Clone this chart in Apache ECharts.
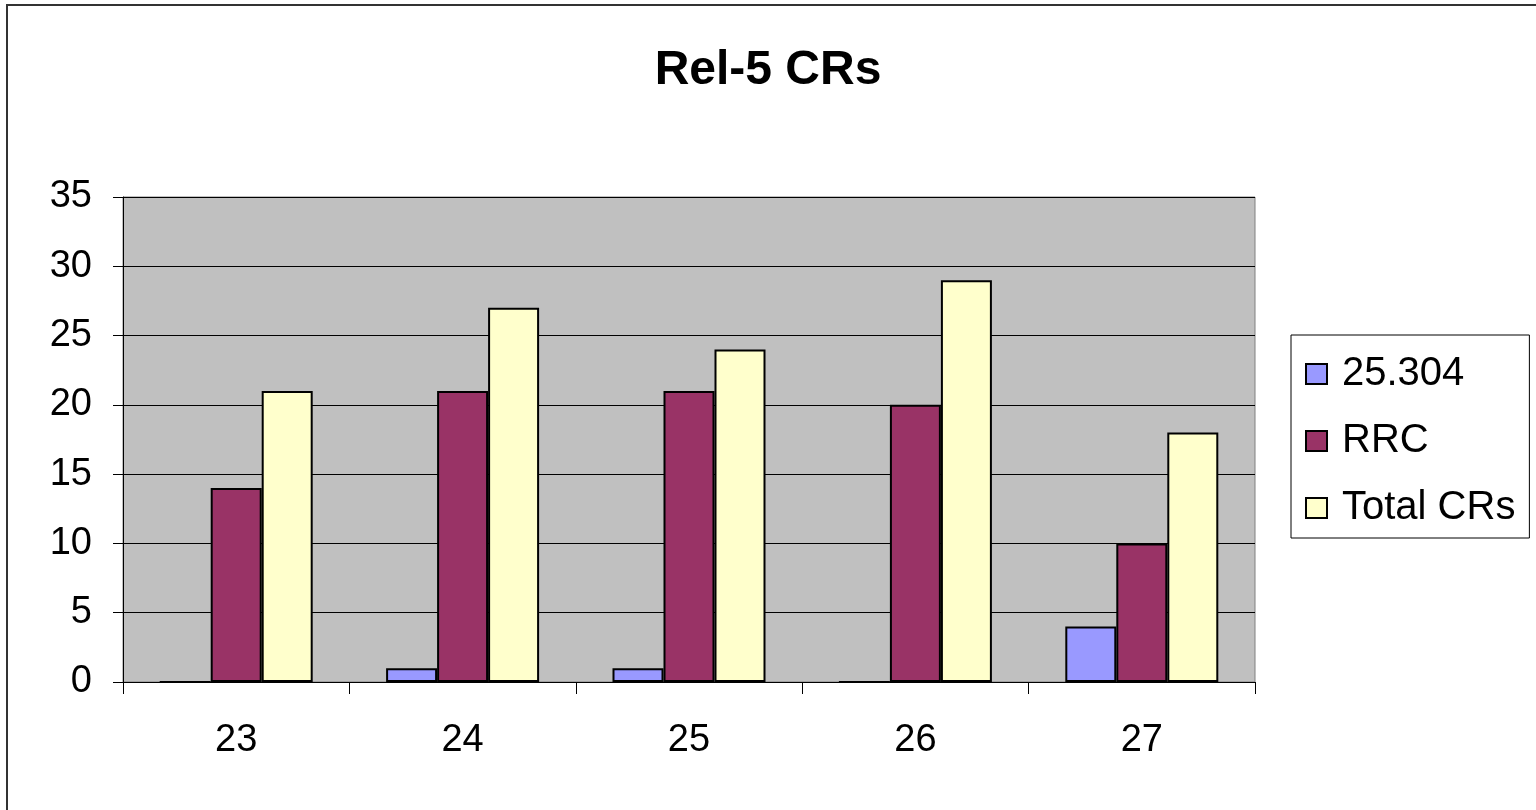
<!DOCTYPE html>
<html>
<head>
<meta charset="utf-8">
<script src="https://cdn.jsdelivr.net/npm/echarts@6/dist/echarts.min.js"></script>
<style>
  html, body { margin: 0; padding: 0; background: #fff; }
  #chart { width: 1536px; height: 810px; }
</style>
</head>
<body>
<div id="chart"></div>
<script>
// categories (meetings) and series values
const categories = ["23", "24", "25", "26", "27"];
const spec25304 = [0, 1, 1, 0, 4];
const rrc = [14, 21, 21, 20, 10];
const totalCRs = [21, 27, 24, 29, 18];
const seriesNames = ["25.304", "RRC", "Total CRs"];
const seriesColors = ["#9999ff", "#993366", "#ffffcc"];

const font = "Liberation Sans, Arial, sans-serif";
const chart = echarts.init(document.getElementById("chart"));

const makeBar = (name, data, color) => ({
    name: name,
    type: "bar",
    data: data,
    barWidth: 51,
    barGap: "0%",
    itemStyle: { color: color, borderColor: "#000", borderWidth: 2 },
});

chart.setOption({
    animation: false,
    backgroundColor: "#fff",
    title: {
        text: "Rel-5 CRs",
        left: "center",
        top: 42,
        textStyle: { fontFamily: font, fontSize: 48, fontWeight: "bold", color: "#000" },
    },
    // outer chart-area frame: only top and left edges are visible
    graphic: [
        {
            type: "polyline",
            shape: { points: [[7, 810], [7, 5], [1536, 5]] },
            style: { fill: "none", stroke: "#333", lineWidth: 2 },
            silent: true,
        },
    ],
    legend: {
        orient: "vertical",
        left: 1291,
        top: 335,
        padding: [19, 14, 10, 14],
        itemGap: 27,
        itemWidth: 21,
        itemHeight: 20,
        icon: "rect",
        borderColor: "#000",
        borderWidth: 1,
        textStyle: { fontFamily: font, fontSize: 40, color: "#000", padding: [0, 0, 0, 10] },
        itemStyle: { borderColor: "#000", borderWidth: 2 },
        data: seriesNames,
    },
    grid: {
        left: 123,
        right: 281,
        top: 197,
        bottom: 128,
        show: true,
        backgroundColor: "#c0c0c0",
        borderColor: "#808080",
        borderWidth: 1,
    },
    xAxis: {
        type: "category",
        data: categories,
        axisLine: { lineStyle: { color: "#000", width: 1 } },
        axisTick: { show: true, length: 12, inside: false, lineStyle: { color: "#000" } },
        axisLabel: { fontFamily: font, fontSize: 38, color: "#000", margin: 40 },
    },
    yAxis: {
        type: "value",
        min: 0,
        max: 35,
        interval: 5,
        axisLine: { show: true, lineStyle: { color: "#000", width: 1 } },
        axisTick: { show: true, length: 10, lineStyle: { color: "#000" } },
        axisLabel: { fontFamily: font, fontSize: 38, color: "#000", margin: 31 },
        splitLine: { show: true, lineStyle: { color: "#000", width: 1 } },
    },
    series: [
        makeBar(seriesNames[0], spec25304, seriesColors[0]),
        makeBar(seriesNames[1], rrc, seriesColors[1]),
        makeBar(seriesNames[2], totalCRs, seriesColors[2]),
    ],
});
</script>
</body>
</html>
